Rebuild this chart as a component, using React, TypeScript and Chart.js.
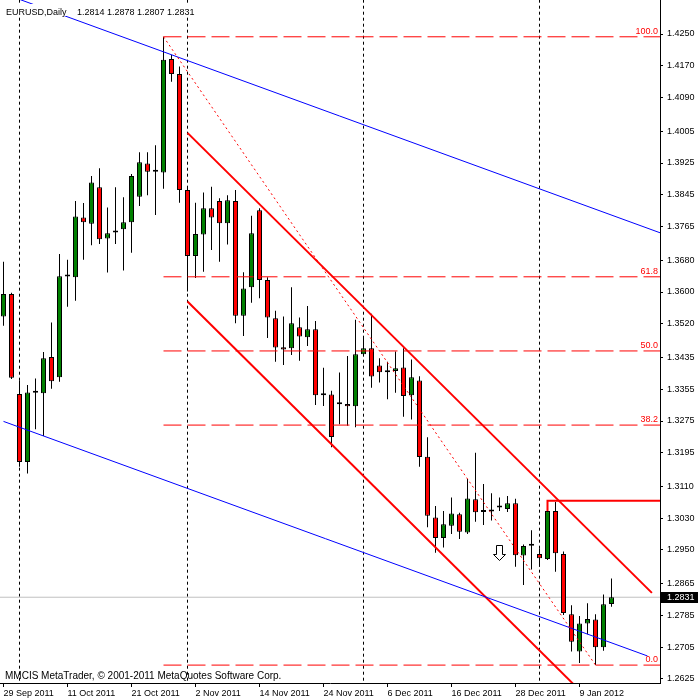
import { useEffect, useRef } from "react";
import { Chart, registerables } from "chart.js";

Chart.register(...registerables);

// ---- Daily EURUSD bars (index 0 = 29 Sep 2011) ----
const OPEN = [
  1.3538, 1.3595, 1.3343, 1.3172, 1.3346, 1.3345, 1.3436, 1.3385, 1.3639, 1.3637,
  1.3788, 1.3772, 1.3864, 1.3735, 1.3750, 1.3758, 1.3776, 1.3840, 1.3924, 1.3903,
  1.3901, 1.4187, 1.4149, 1.3857, 1.3691, 1.3745, 1.3811, 1.3829, 1.3773, 1.3829,
  1.3540, 1.3612, 1.3806, 1.3630, 1.3534, 1.3461, 1.3458, 1.3511, 1.3486, 1.3506,
  1.3340, 1.3342, 1.3317, 1.3318, 1.3312, 1.3443, 1.3458, 1.3415, 1.3398, 1.3401,
  1.3410, 1.3340, 1.3377, 1.3185, 1.3032, 1.2980, 1.3011, 1.3040, 1.2994, 1.3078,
  1.3046, 1.3047, 1.3057, 1.3053, 1.3068, 1.2936, 1.2961, 1.2940, 1.2927, 1.3048,
  1.2940, 1.2788, 1.2694, 1.2765, 1.2775, 1.2705, 1.2814,
];
const HIGH = [
  1.3676, 1.3598, 1.3377, 1.3366, 1.3382, 1.3449, 1.3523, 1.3696, 1.3681, 1.3829,
  1.3824, 1.3892, 1.3912, 1.3813, 1.3864, 1.3839, 1.3897, 1.3952, 1.3952, 1.3970,
  1.4243, 1.4197, 1.4168, 1.3867, 1.3825, 1.3851, 1.3865, 1.3836, 1.3844, 1.3857,
  1.3650, 1.3792, 1.3811, 1.3637, 1.3553, 1.3538, 1.3612, 1.3536, 1.3565, 1.3527,
  1.3409, 1.3351, 1.3397, 1.3439, 1.3530, 1.3484, 1.3545, 1.3433, 1.3424, 1.3450,
  1.3458, 1.3430, 1.3388, 1.3234, 1.3061, 1.3048, 1.3082, 1.3044, 1.3129, 1.3195,
  1.3116, 1.3093, 1.3082, 1.3086, 1.3079, 1.2964, 1.3000, 1.2954, 1.3076, 1.3071,
  1.2946, 1.2811, 1.2784, 1.2816, 1.2788, 1.2838, 1.2878,
];
const LOW = [
  1.3515, 1.3381, 1.3160, 1.3143, 1.3254, 1.3237, 1.3356, 1.3374, 1.3563, 1.3578,
  1.3681, 1.3718, 1.3721, 1.3649, 1.3721, 1.3654, 1.3699, 1.3817, 1.3844, 1.3794,
  1.3860, 1.4130, 1.3825, 1.3601, 1.3635, 1.3651, 1.3706, 1.3676, 1.3720, 1.3521,
  1.3489, 1.3573, 1.3584, 1.3484, 1.3424, 1.3416, 1.3441, 1.3427, 1.3464, 1.3315,
  1.3313, 1.3209, 1.3267, 1.3263, 1.3259, 1.3439, 1.3359, 1.3372, 1.3330, 1.3346,
  1.3286, 1.3279, 1.3160, 1.3007, 1.2943, 1.2956, 1.2990, 1.2978, 1.2990, 1.3021,
  1.3013, 1.3024, 1.3048, 1.3046, 1.2908, 1.2862, 1.2901, 1.2908, 1.2925, 1.2895,
  1.2786, 1.2694, 1.2665, 1.2738, 1.2660, 1.2696, 1.2807,
];
const CLOSE = [
  1.3595, 1.3384, 1.3172, 1.3347, 1.3346, 1.3433, 1.3375, 1.3640, 1.3639, 1.3790,
  1.3776, 1.3876, 1.3733, 1.3748, 1.3755, 1.3776, 1.3892, 1.3927, 1.3903, 1.3903,
  1.4185, 1.4149, 1.3857, 1.3691, 1.3746, 1.3811, 1.3788, 1.3773, 1.3831, 1.3540,
  1.3609, 1.3748, 1.3630, 1.3536, 1.3460, 1.3455, 1.3521, 1.3488, 1.3506, 1.3340,
  1.3345, 1.3235, 1.3317, 1.3312, 1.3443, 1.3458, 1.3387, 1.3398, 1.3398, 1.3408,
  1.3338, 1.3385, 1.3184, 1.3036, 1.2980, 1.3015, 1.3042, 1.2996, 1.3080, 1.3045,
  1.3046, 1.3047, 1.3057, 1.3068, 1.2937, 1.2960, 1.2961, 1.2929, 1.3048, 1.2942,
  1.2791, 1.2719, 1.2765, 1.2776, 1.2705, 1.2813, 1.2831,
];

// ---- axis ticks ----
const DATE_TICK_INDEX = [0, 8, 16, 24, 32, 40, 48, 56, 64, 72];
const DATE_TICK_LABELS = [
  "29 Sep 2011", "11 Oct 2011", "21 Oct 2011", "2 Nov 2011", "14 Nov 2011",
  "24 Nov 2011", "6 Dec 2011", "16 Dec 2011", "28 Dec 2011", "9 Jan 2012",
];
const PRICE_TICKS = [
  1.2625, 1.2705, 1.2785, 1.2865, 1.295, 1.303, 1.311, 1.3195, 1.3275, 1.3355,
  1.3435, 1.352, 1.36, 1.368, 1.3765, 1.3845, 1.3925, 1.4005, 1.409, 1.417, 1.425,
];
const X_MIN = -0.4375;
const X_MAX = 82.0625;
const Y_MIN = 1.26149;
const Y_MAX = 1.43357;

// ---- chart objects (bar index, price) ----
const MONTH_SEPARATORS = [2, 23, 45, 67];
const FIB_HIGH = { x: 20, y: 1.4243 };
const FIB_LOW = { x: 74, y: 1.266 };
const FIB_LEVELS = [0, 38.2, 50, 61.8, 100];
const FIB_TEXT = ["0.0", "38.2", "50.0", "61.8", "100.0"];
const BLUE_UPPER = [{ x: 0, y: 1.4352 }, { x: 82.1, y: 1.3749 }];
const BLUE_LOWER = [{ x: 0, y: 1.3274 }, { x: 80.5, y: 1.2683 }];
const RED_UPPER = [{ x: 23, y: 1.4001 }, { x: 81.05, y: 1.2842 }];
const RED_LOWER = [{ x: 23, y: 1.3576 }, { x: 75, y: 1.2537 }];
const RED_LEVEL = [{ x: 68, y: 1.3048 }, { x: 68, y: 1.3074 }, { x: 83, y: 1.3074 }];
const ARROW = { x: 62, y: 1.2963 };

const FONT = '"Liberation Sans", Arial, sans-serif';
const LAST = OPEN.length - 1;

const lineDs = (data: any[], color: string, width: number, dash: number[], order: number) => ({
  type: "line" as const,
  data,
  borderColor: color,
  borderWidth: width,
  borderDash: dash,
  pointRadius: 0,
  pointHoverRadius: 0,
  fill: false,
  tension: 0,
  order,
  clip: 0,
});

const overlayPlugin = {
  id: "mtOverlay",
  afterDraw(chart: any) {
    const { ctx, chartArea, scales } = chart;
    const xs = scales.x;
    const ys = scales.y;
    ctx.save();

    // Fibonacci level labels
    ctx.font = `9px ${FONT}`;
    ctx.fillStyle = "#ff0000";
    ctx.textAlign = "right";
    ctx.textBaseline = "bottom";
    FIB_LEVELS.forEach((lv, i) => {
      const p = FIB_LOW.y + ((FIB_HIGH.y - FIB_LOW.y) * lv) / 100;
      ctx.fillText(FIB_TEXT[i], chartArea.right - 2, ys.getPixelForValue(p) - 1);
    });

    // hollow down arrow
    const ax = xs.getPixelForValue(ARROW.x);
    const ay = Math.round(ys.getPixelForValue(ARROW.y)) + 0.5;
    ctx.beginPath();
    ctx.moveTo(ax - 3, ay);
    ctx.lineTo(ax + 3, ay);
    ctx.lineTo(ax + 3, ay + 9);
    ctx.lineTo(ax + 6, ay + 9);
    ctx.lineTo(ax, ay + 15);
    ctx.lineTo(ax - 6, ay + 9);
    ctx.lineTo(ax - 3, ay + 9);
    ctx.closePath();
    ctx.fillStyle = "#ffffff";
    ctx.fill();
    ctx.strokeStyle = "#000000";
    ctx.lineWidth = 1;
    ctx.stroke();

    // title with background
    ctx.fillStyle = "#ffffff";
    ctx.fillRect(4, 4, 196, 12);
    ctx.fillStyle = "#000000";
    ctx.textAlign = "left";
    ctx.textBaseline = "alphabetic";
    ctx.font = `9px ${FONT}`;
    ctx.fillText("EURUSD,Daily", 6, 15);
    ctx.fillText(
      [OPEN[LAST], HIGH[LAST], LOW[LAST], CLOSE[LAST]].map((v) => v.toFixed(4)).join(" "),
      77,
      15
    );

    // copyright line
    ctx.font = `10px ${FONT}`;
    ctx.fillText("MMCIS MetaTrader, \u00a9 2001-2011 MetaQuotes Software Corp.", 5, 679);

    // current price box on the axis
    const py = ys.getPixelForValue(CLOSE[LAST]);
    ctx.fillStyle = "#000000";
    ctx.fillRect(chartArea.right + 1, Math.round(py) - 5, 37, 11);
    ctx.fillStyle = "#ffffff";
    ctx.font = `9px ${FONT}`;
    ctx.textBaseline = "middle";
    ctx.fillText(CLOSE[LAST].toFixed(4), chartArea.right + 7, Math.round(py) + 0.5);

    ctx.restore();
  },
};

export default function App() {
  const ref = useRef<HTMLCanvasElement>(null);

  useEffect(() => {
    const idx = OPEN.map((_, i) => i);
    const bodies = idx.map((i) => ({ x: i, y: [OPEN[i], CLOSE[i]] }));
    const wicks = idx.map((i) => ({ x: i, y: [LOW[i], HIGH[i]] }));
    const bodyColors = idx.map((i) =>
      CLOSE[i] > OPEN[i] ? "#008000" : CLOSE[i] < OPEN[i] ? "#ff0000" : "#000000"
    );

    const fibRange = FIB_HIGH.y - FIB_LOW.y;
    const fibDatasets = FIB_LEVELS.map((lv) => {
      const p = FIB_LOW.y + (fibRange * lv) / 100;
      return lineDs([{ x: FIB_HIGH.x, y: p }, { x: X_MAX + 1, y: p }], "#ff0000", 1, [18, 6], 0);
    });

    const sepDatasets = MONTH_SEPARATORS.map((s) =>
      lineDs([{ x: s, y: Y_MIN - 0.01 }, { x: s, y: Y_MAX + 0.01 }], "#000000", 1, [3, 3], 20)
    );

    const chart = new Chart(ref.current as HTMLCanvasElement, {
      type: "bar",
      data: {
        datasets: [
          {
            type: "bar",
            data: bodies as any,
            backgroundColor: bodyColors,
            borderColor: "#000000",
            borderWidth: 1,
            borderSkipped: false,
            barThickness: 5,
            grouped: false,
            inflateAmount: 0,
            minBarLength: 2,
            order: 2,
          } as any,
          {
            type: "bar",
            data: wicks as any,
            backgroundColor: "#000000",
            borderWidth: 0,
            barThickness: 1,
            grouped: false,
            inflateAmount: 0,
            order: 3,
          } as any,
          lineDs([{ x: X_MIN - 1, y: CLOSE[LAST] }, { x: X_MAX + 1, y: CLOSE[LAST] }], "#c0c0c0", 1, [], 10),
          ...sepDatasets,
          ...fibDatasets,
          lineDs([FIB_HIGH, FIB_LOW], "#ff0000", 1, [2, 3], 0),
          lineDs(BLUE_UPPER, "#0000ff", 1, [], 0),
          lineDs(BLUE_LOWER, "#0000ff", 1, [], 0),
          lineDs(RED_UPPER, "#ff0000", 2, [], 0),
          lineDs(RED_LOWER, "#ff0000", 2, [], 0),
          lineDs(RED_LEVEL, "#ff0000", 2, [], 0),
        ] as any,
      },
      options: {
        responsive: false,
        maintainAspectRatio: false,
        animation: false,
        devicePixelRatio: 1,
        events: [],
        layout: { padding: 0 },
        plugins: {
          legend: { display: false },
          tooltip: { enabled: false },
        },
        scales: {
          x: {
            type: "linear",
            min: X_MIN,
            max: X_MAX,
            offset: false,
            afterBuildTicks: (s: any) => {
              s.ticks = DATE_TICK_INDEX.map((v) => ({ value: v }));
            },
            afterFit: (s: any) => {
              s.height = 17;
              s.paddingLeft = 0;
              s.paddingRight = 0;
            },
            ticks: {
              callback: (_v: any, i: number) => DATE_TICK_LABELS[i] ?? "",
              align: "start",
              maxRotation: 0,
              minRotation: 0,
              autoSkip: false,
              padding: 1,
              color: "#000000",
              font: { family: FONT, size: 9 },
            },
            grid: {
              offset: false,
              drawOnChartArea: false,
              drawTicks: true,
              tickLength: 4,
              color: "#000000",
            },
            border: { display: true, color: "#000000", width: 1 },
          },
          y: {
            type: "linear",
            position: "right",
            min: Y_MIN,
            max: Y_MAX,
            beginAtZero: false,
            afterBuildTicks: (s: any) => {
              s.ticks = PRICE_TICKS.map((v) => ({ value: v }));
            },
            afterFit: (s: any) => {
              s.width = 40;
              s.paddingTop = 0;
              s.paddingBottom = 0;
            },
            ticks: {
              callback: (v: any) => Number(v).toFixed(4),
              autoSkip: false,
              padding: 4,
              color: "#000000",
              font: { family: FONT, size: 9 },
            },
            grid: {
              drawOnChartArea: false,
              drawTicks: true,
              tickLength: 3,
              color: "#000000",
            },
            border: { display: true, color: "#000000", width: 1 },
          },
        },
      } as any,
      plugins: [overlayPlugin],
    });

    return () => chart.destroy();
  }, []);

  return (
    <div style={{ position: "fixed", left: 0, top: 0, width: 700, height: 700, background: "#ffffff" }}>
      <canvas ref={ref} width={700} height={700} style={{ display: "block", width: 700, height: 700 }} />
    </div>
  );
}
